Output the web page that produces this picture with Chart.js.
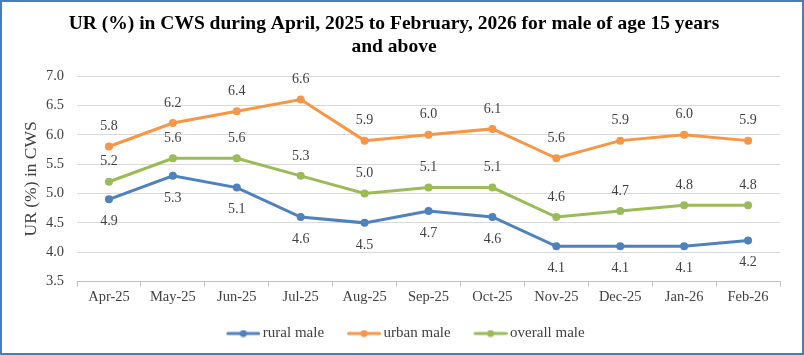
<!DOCTYPE html>
<html>
<head>
<meta charset="utf-8">
<script src="https://cdn.jsdelivr.net/npm/chart.js@4.4.1/dist/chart.umd.min.js"></script>
<style>
html,body{margin:0;padding:0;background:#fff;}
#wrap{width:804px;height:355px;position:relative;}
</style>
</head>
<body>
<div id="wrap"><canvas id="c" width="804" height="355"></canvas></div>
<script>
const categories = ["Apr-25","May-25","Jun-25","Jul-25","Aug-25","Sep-25","Oct-25","Nov-25","Dec-25","Jan-26","Feb-26"];
const ruralMale = [4.9,5.3,5.1,4.6,4.5,4.7,4.6,4.1,4.1,4.1,4.2];
const urbanMale = [5.8,6.2,6.4,6.6,5.9,6.0,6.1,5.6,5.9,6.0,5.9];
const overallMale = [5.2,5.6,5.6,5.3,5.0,5.1,5.1,4.6,4.7,4.8,4.8];
const seriesNames = ["rural male","urban male","overall male"];
const titleLines = ["UR (%) in CWS during April, 2025 to February, 2026 for male of age 15 years","and above"];
const yTitle = "UR (%) in CWS";

const colors = ["#4F81BD","#F79646","#9BBB59"];
const FONT = "'Liberation Serif','Times New Roman',serif";

function legendIcon(color){
  const s = 5;
  const c = document.createElement('canvas');
  c.width = 34 + 2*s; c.height = 8;
  const g = c.getContext('2d');
  g.strokeStyle = color; g.lineWidth = 3; g.lineCap='round';
  g.beginPath(); g.moveTo(2*s+1.5,4); g.lineTo(2*s+32.5,4); g.stroke();
  g.fillStyle = color; g.beginPath(); g.arc(2*s+17,4,3.5,0,Math.PI*2); g.fill();
  return c;
}

const labelPlugin = {
  id:'labels',
  afterLayout(chart){
    if (chart.legend){ chart.legend.left += 9; chart.legend.right += 9; }
  },
  afterDatasetsDraw(chart){
    const ctx = chart.ctx;
    ctx.save();
    ctx.font = "14px " + FONT;
    ctx.fillStyle = "#404040";
    ctx.textAlign = "center";
    ctx.textBaseline = "middle";
    chart.data.datasets.forEach((ds,i)=>{
      const meta = chart.getDatasetMeta(i);
      meta.data.forEach((pt,j)=>{
        const v = ds.data[j];
        const dy = (i===0) ? 22 : -20;
        ctx.fillText(v.toFixed(1), pt.x, pt.y + dy);
      });
    });
    ctx.restore();
  },
  afterDraw(chart){
    const ctx = chart.ctx;
    ctx.save();
    ctx.strokeStyle = "#4A7EBB";
    ctx.lineWidth = 2;
    ctx.strokeRect(1,1,chart.width-2,chart.height-2);
    ctx.restore();
  }
};

const seriesData = [ruralMale, urbanMale, overallMale];
new Chart(document.getElementById('c'), {
  type:'line',
  data:{
    labels:categories,
    datasets: seriesData.map((d,i)=>({
      label: seriesNames[i],
      data: d,
      borderColor: colors[i],
      backgroundColor: colors[i],
      borderWidth: 3,
      pointRadius: 4,
      pointHoverRadius: 4,
      pointBackgroundColor: colors[i],
      pointBorderWidth: 0,
      pointStyle: 'circle',
      tension: 0,
      fill: false
    }))
  },
  options:{
    responsive:false,
    animation:false,
    devicePixelRatio:1,
    layout:{padding:{left:8,right:24,top:0,bottom:4}},
    plugins:{
      title:{
        display:true,
        text:titleLines,
        color:"#000",
        font:{family:FONT,size:19.5,weight:'bold',lineHeight:1.18},
        padding:{top:12,bottom:18}
      },
      legend:{
        position:'bottom',
        labels:{
          usePointStyle:true,
          pointStyleWidth:34,
          generateLabels(chart){
            return chart.data.datasets.map((ds,i)=>({
              text: ds.label,
              pointStyle: legendIcon(colors[i]),
              fillStyle: colors[i],
              strokeStyle: colors[i],
              lineWidth:0,
              hidden:false,
              datasetIndex:i,
              fontColor:"#404040"
            }));
          },
          color:"#404040",
          font:{family:FONT,size:15},
          padding:18,
          boxHeight:8
        }
      },
      tooltip:{enabled:false}
    },
    scales:{
      x:{
        offset:true,
        grid:{display:true,drawOnChartArea:false,offset:true,tickLength:5,color:"#BFBFBF"},
        border:{display:true,color:"#BFBFBF"},
        ticks:{color:"#404040",font:{family:FONT,size:14.5},maxRotation:0,autoSkip:false,padding:2}
      },
      y:{
        min:3.5,max:7.0,
        afterFit(scale){ scale.width = 69; },
        ticks:{stepSize:0.5,color:"#404040",font:{family:FONT,size:14.5},padding:13,callback:v=>Number(v).toFixed(1)},
        grid:{color:"#D9D9D9",drawTicks:false},
        border:{display:false},
        title:{display:true,text:yTitle,color:"#404040",font:{family:FONT,size:17.5},padding:{top:13,bottom:4}}
      }
    }
  },
  plugins:[labelPlugin]
});
</script>
</body>
</html>
